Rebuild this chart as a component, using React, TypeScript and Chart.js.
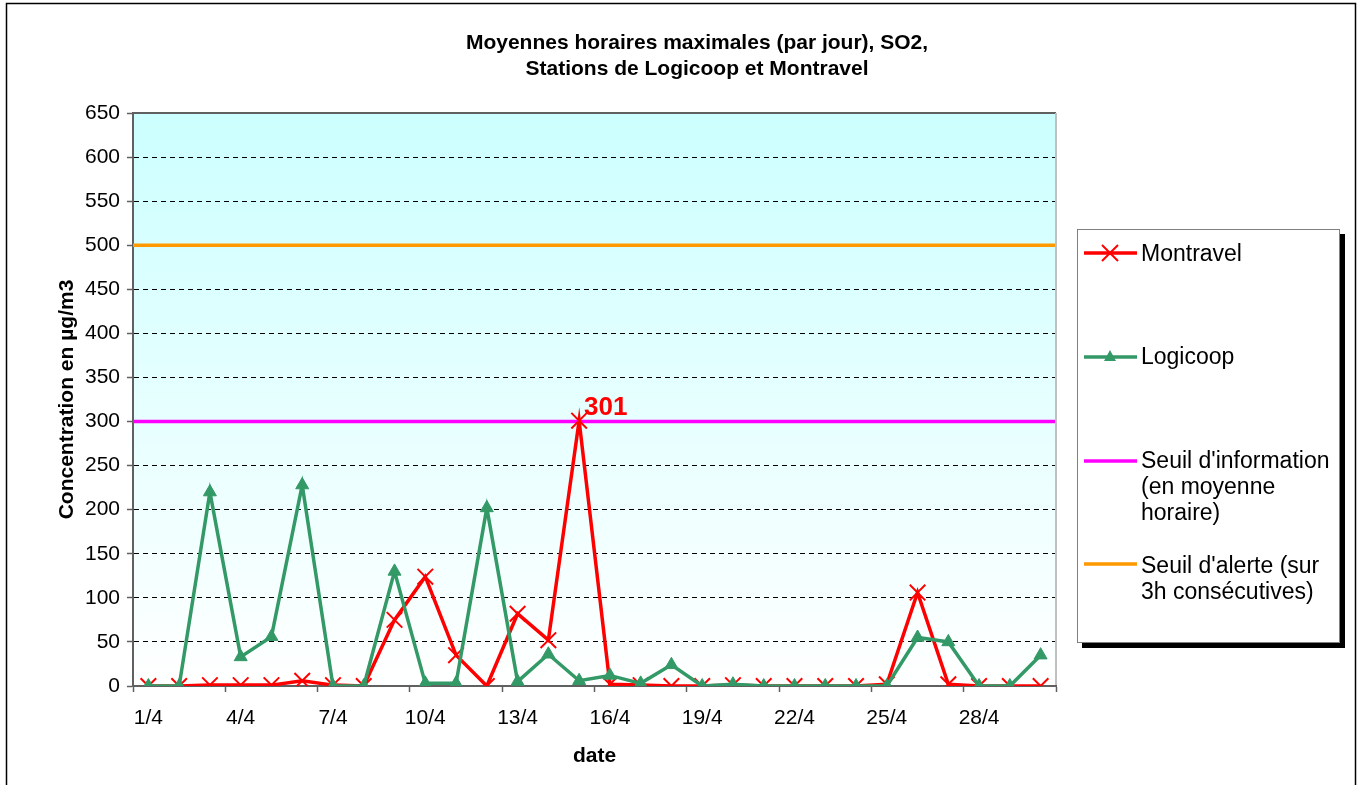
import React, { useEffect, useRef } from "react";
import { Chart, registerables } from "chart.js";

Chart.register(...registerables);

const dates = [
  "1/4", "2/4", "3/4", "4/4", "5/4", "6/4", "7/4", "8/4", "9/4", "10/4",
  "11/4", "12/4", "13/4", "14/4", "15/4", "16/4", "17/4", "18/4", "19/4", "20/4",
  "21/4", "22/4", "23/4", "24/4", "25/4", "26/4", "27/4", "28/4", "29/4", "30/4",
];
const montravel = [0, 0, 1, 1, 1, 6, 1, 0, 75, 124, 35, 0, 82, 52, 301, 2, 1, 0, 0, 1, 0, 0, 0, 0, 2, 106, 2, 0, 0, 0];
const logicoop = [0, 0, 220, 33, 56, 228, 0, 0, 130, 3, 3, 202, 5, 36, 6, 12, 3, 24, 0, 2, 0, 0, 0, 0, 0, 55, 50, 0, 0, 35];
const seuilInformation = 300;
const seuilAlerte = 500;
const yMin = 0;
const yMax = 650;
const yStep = 50;

const legendLabels = [
  ["Montravel"],
  ["Logicoop"],
  ["Seuil d'information", "(en moyenne", "horaire)"],
  ["Seuil d'alerte (sur", "3h consécutives)"],
];
const titleLines = ["Moyennes horaires maximales (par jour), SO2,", "Stations de Logicoop et Montravel"];
const yTitle = "Concentration en µg/m3";
const xTitle = "date";

const RED = "#FF0000";
const GREEN = "#339966";
const MAGENTA = "#FF00FF";
const ORANGE = "#FF9900";
const FONT = "'Liberation Sans', Arial, Helvetica, sans-serif";

export default function App() {
  const ref = useRef<HTMLCanvasElement>(null);

  useEffect(() => {
    const canvas = ref.current!;

    const decor = {
      id: "decor",
      beforeDraw(chart: any) {
        const { ctx, chartArea: a } = chart;
        ctx.save();
        ctx.fillStyle = "#fff";
        ctx.fillRect(0, 0, chart.width, chart.height);
        ctx.strokeStyle = "#000";
        ctx.lineWidth = 1.5;
        ctx.strokeRect(6.5, 3.5, 1349, 820);
        const g = ctx.createLinearGradient(0, a.top, 0, a.bottom);
        g.addColorStop(0, "#CCFFFF");
        g.addColorStop(1, "#FFFFFF");
        ctx.fillStyle = g;
        ctx.fillRect(a.left, a.top, a.right - a.left, a.bottom - a.top);
        ctx.restore();
      },
      afterDraw(chart: any) {
        const { ctx, chartArea: a } = chart;
        ctx.save();
        // plot frame top and right
        ctx.lineWidth = 2;
        ctx.strokeStyle = "#606060";
        ctx.beginPath();
        ctx.moveTo(a.left, a.top);
        ctx.lineTo(a.right, a.top);
        ctx.stroke();
        ctx.strokeStyle = "#C0C0C0";
        ctx.beginPath();
        ctx.moveTo(a.right, a.top);
        ctx.lineTo(a.right, a.bottom - 1);
        ctx.stroke();

        // title
        ctx.fillStyle = "#000";
        ctx.textAlign = "center";
        ctx.textBaseline = "middle";
        ctx.font = `bold 21px ${FONT}`;
        ctx.fillText(titleLines[0], 697, 43);
        ctx.fillText(titleLines[1], 697, 69);

        // axis titles
        ctx.fillText(xTitle, (a.left + a.right) / 2, 756);
        ctx.save();
        ctx.translate(67, (a.top + a.bottom) / 2);
        ctx.rotate(-Math.PI / 2);
        ctx.fillText(yTitle, 0, 0);
        ctx.restore();

        // peak label
        const meta = chart.getDatasetMeta(0);
        let maxI = 0;
        montravel.forEach((v, i) => { if (v > montravel[maxI]) maxI = i; });
        const pt = meta.data[maxI];
        ctx.fillStyle = RED;
        ctx.textAlign = "left";
        ctx.textBaseline = "alphabetic";
        ctx.font = `bold 26px ${FONT}`;
        ctx.fillText(String(montravel[maxI]), pt.x + 5, pt.y - 6);

        // legend
        const L = 1077, T = 229, R = 1340, B = 643;
        ctx.fillStyle = "#000";
        ctx.fillRect(L + 5, T + 5, R - L, B - T);
        ctx.fillStyle = "#fff";
        ctx.fillRect(L, T, R - L, B - T);
        ctx.strokeStyle = "#808080";
        ctx.lineWidth = 1;
        ctx.strokeRect(L + 0.5, T + 0.5, R - L - 1, B - T - 1);

        const colors = [RED, GREEN, MAGENTA, ORANGE];
        const sampleY = [253, 357, 461, 564];
        const textY = [[255], [358], [462, 488, 514], [567, 593]];
        ctx.font = `23px ${FONT}`;
        ctx.textBaseline = "middle";
        legendLabels.forEach((lines, k) => {
          const y = sampleY[k];
          ctx.strokeStyle = colors[k];
          ctx.lineWidth = 3.5;
          ctx.beginPath();
          ctx.moveTo(1084, y);
          ctx.lineTo(1137, y);
          ctx.stroke();
          const cx = 1110;
          if (k === 0) {
            ctx.lineWidth = 2;
            ctx.beginPath();
            ctx.moveTo(cx - 8, y - 8); ctx.lineTo(cx + 8, y + 8);
            ctx.moveTo(cx + 8, y - 8); ctx.lineTo(cx - 8, y + 8);
            ctx.stroke();
          } else if (k === 1) {
            ctx.fillStyle = GREEN;
            ctx.beginPath();
            ctx.moveTo(cx, y - 7);
            ctx.lineTo(cx + 6, y + 4);
            ctx.lineTo(cx - 6, y + 4);
            ctx.closePath();
            ctx.fill();
          }
          ctx.fillStyle = "#000";
          lines.forEach((t, j) => ctx.fillText(t, 1141, textY[k][j]));
        });
        ctx.restore();
      },
    };

    const chart = new Chart(canvas, {
      type: "line",
      data: {
        labels: dates,
        datasets: [
          {
            label: legendLabels[0].join(" "),
            data: montravel,
            borderColor: RED,
            backgroundColor: RED,
            borderWidth: 3.5,
            pointStyle: "crossRot",
            pointRadius: 11,
            pointBorderWidth: 2,
            pointBorderColor: RED,
            tension: 0,
            order: 1,
          },
          {
            label: legendLabels[1].join(" "),
            data: logicoop,
            borderColor: GREEN,
            backgroundColor: GREEN,
            borderWidth: 3.5,
            pointStyle: "triangle",
            pointRadius: 7.5,
            pointBorderWidth: 1,
            pointBorderColor: GREEN,
            pointBackgroundColor: GREEN,
            tension: 0,
            order: 0,
          },
          {
            label: legendLabels[2].join(" "),
            data: [{ x: 0, y: seuilInformation }, { x: 1, y: seuilInformation }] as any,
            xAxisID: "x2",
            borderColor: MAGENTA,
            borderWidth: 3.5,
            pointRadius: 0,
            order: 2,
          },
          {
            label: legendLabels[3].join(" "),
            data: [{ x: 0, y: seuilAlerte }, { x: 1, y: seuilAlerte }] as any,
            xAxisID: "x2",
            borderColor: ORANGE,
            borderWidth: 3.5,
            pointRadius: 0,
            order: 3,
          },
        ],
      },
      options: {
        animation: false,
        responsive: true,
        maintainAspectRatio: false,
        layout: { padding: { top: 113, right: 306, left: 0, bottom: 0 } },
        plugins: { legend: { display: false }, title: { display: false }, tooltip: { enabled: false } },
        scales: {
          x: {
            type: "category",
            offset: true,
            ticks: {
              autoSkip: false,
              maxRotation: 0,
              minRotation: 0,
              color: "#000",
              font: { family: FONT, size: 21 },
              padding: 14,
              callback: (_v: any, i: number) => (i % 3 === 0 ? dates[i] : ""),
            },
            grid: {
              offset: true,
              drawOnChartArea: false,
              tickLength: 6,
              tickWidth: 1.5,
              color: "#606060",
              tickColor: (c: any) => (c.type !== "tick" || c.index % 3 === 0 ? "#606060" : "rgba(0,0,0,0)"),
            },
            border: { display: true, color: "#606060", width: 2 },
            afterFit: (s: any) => { s.height = 99; },
          },
          x2: { type: "linear", min: 0, max: 1, display: false },
          y: {
            min: yMin,
            max: yMax,
            ticks: { stepSize: yStep, color: "#000", font: { family: FONT, size: 21 }, padding: 7 },
            grid: {
              color: (c: any) => (c.tick && (c.tick.value === yMin || c.tick.value === yMax) ? "rgba(0,0,0,0)" : "#000"),
              lineWidth: 1,
              tickLength: 6,
              tickWidth: 1.5,
              tickColor: "#606060",
              tickBorderDash: [],
            },
            border: { display: true, color: "#606060", width: 2, dash: [5, 4] },
            afterFit: (s: any) => { s.width = 133; },
          },
        },
      },
      plugins: [decor],
    } as any);
    return () => chart.destroy();
  }, []);

  return (
    <div style={{ position: "fixed", left: 0, top: 0, width: 1362, height: 785, background: "#fff" }}>
      <canvas ref={ref} />
    </div>
  );
}
